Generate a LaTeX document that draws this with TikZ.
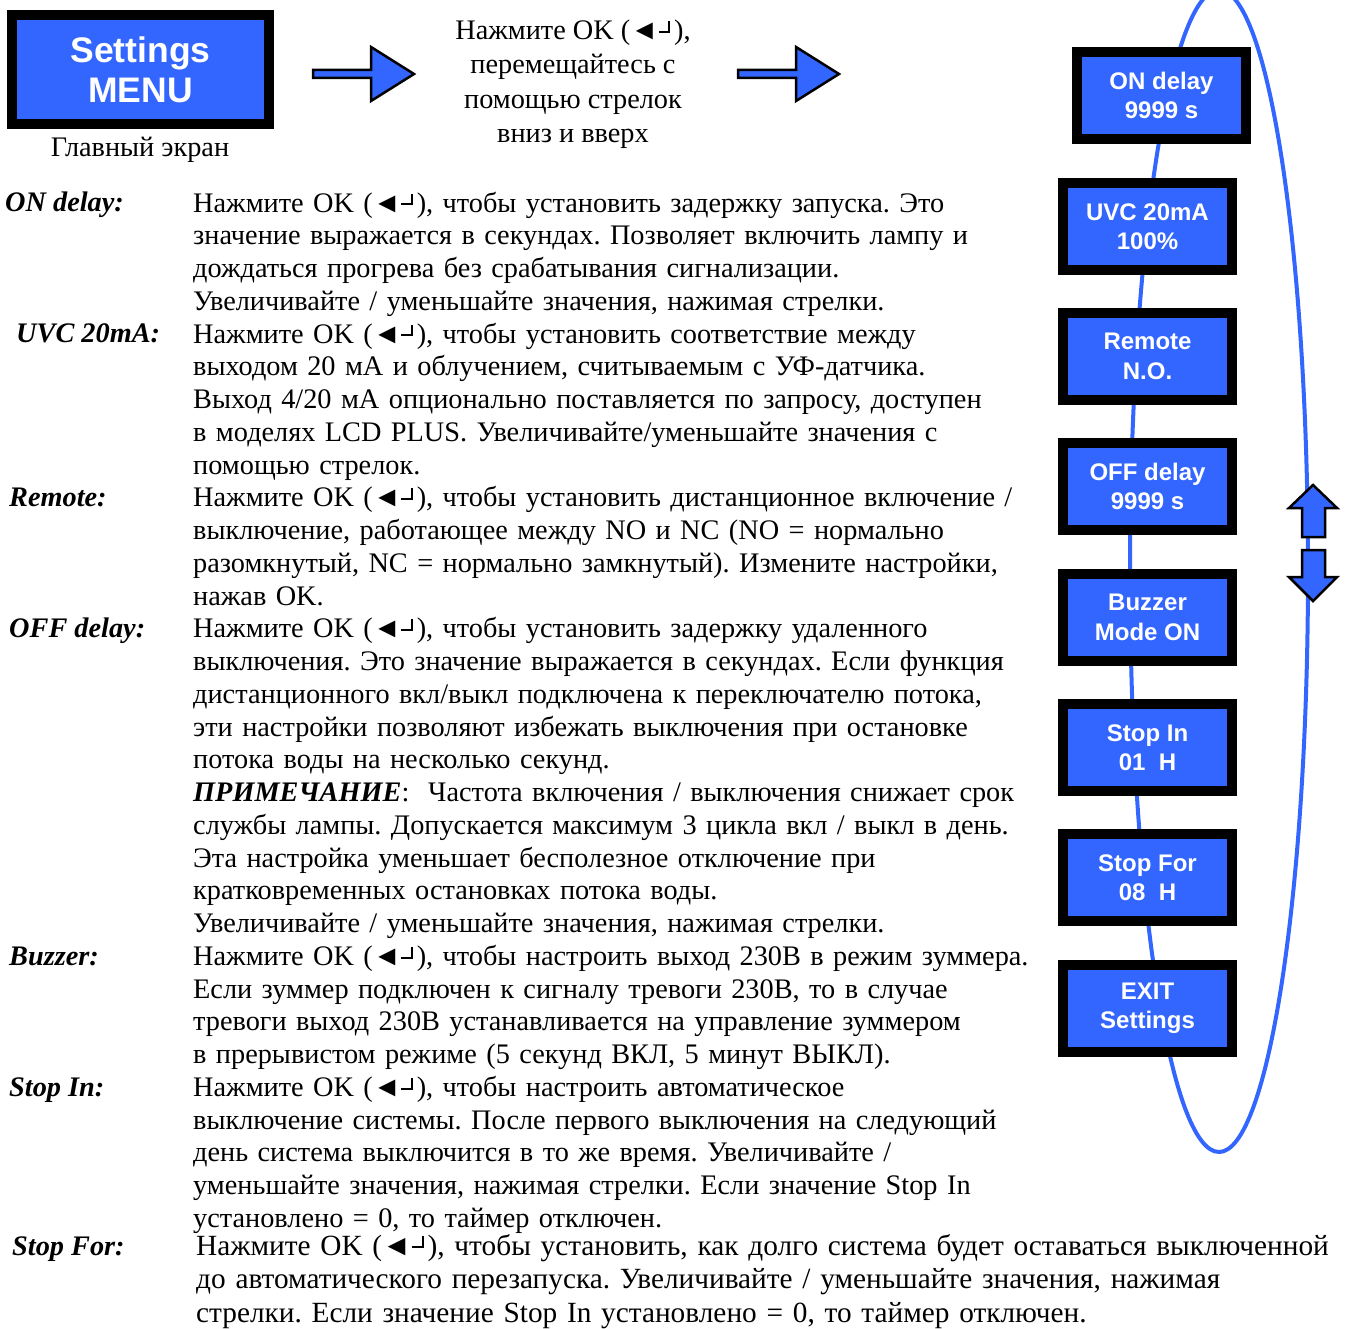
\documentclass[tikz,border=0pt]{standalone}
\usepackage{fontspec}
\setmainfont{Liberation Serif}
\newfontfamily\boxfont{Liberation Sans}
\definecolor{lcdblue}{RGB}{51,102,255}
\frenchspacing
% OK key glyph: left triangle followed by a small raised corner
\newcommand\okkey{(\char"25C4\kern0.02em\rule[0.24em]{0.33em}{0.07em}\rule[0.24em]{0.07em}{0.42em}\kern0.14em)}
\newcommand\bodysize{\fontsize{28.3}{32.75}\selectfont}
\newcommand\lbl[1]{\textbf{\textit{#1}}}
\tikzset{
  lcd/.style={draw=black, line width=10pt, fill=lcdblue, text=white,
    font=\boxfont\bfseries\fontsize{24}{29.5}\selectfont, align=center,
    minimum width=169pt, minimum height=87pt, inner sep=0pt},
  para/.style={anchor=north west, inner sep=0pt, text width=900pt, align=left,
    font=\bodysize},
  tag/.style={anchor=base west, inner sep=0pt, font=\bodysize},
  blockarrow/.style={fill=lcdblue, draw=black, line width=2.5pt, line join=miter}
}
\begin{document}
\begin{tikzpicture}[x=1pt, y=-1pt]
\useasboundingbox (0,0) rectangle (1346,1329);
\clip (0,0) rectangle (1346,1329);

% navigation loop behind the menu items
\draw[lcdblue, line width=4pt] (1219,571) ellipse [x radius=89pt, y radius=581pt];

% main screen
\node[lcd, minimum width=257pt, minimum height=109pt,
      font=\boxfont\bfseries\fontsize{35.5}{40}\selectfont] (menu) at (140.5,69.5) {Settings\\MENU};
\node[anchor=base, inner sep=0pt, font=\bodysize] (menucap) at (140,157) {Главный экран};

% block arrows of the header
\draw[blockarrow] (313,70) -- (371,70) -- (371,47) -- (414,74) -- (371,101) -- (371,78) -- (313,78) -- cycle;
\draw[blockarrow] (738,70) -- (796,70) -- (796,47) -- (839,74) -- (796,101) -- (796,78) -- (738,78) -- cycle;
\node[anchor=north, inner sep=0pt, align=center, font=\fontsize{28.3}{34.5}\selectfont] (howto) at (573,15)
  {\strut Нажмите OK \okkey,\\перемещайтесь с\\помощью стрелок\\вниз и вверх};

% menu items
\node[lcd] (ond) at (1161.5,95.5) {ON delay\\9999 s};
\node[lcd] (uvc) at (1147.5,226.5) {UVC 20mA\\100\%};
\node[lcd] (rem) at (1147.5,356.5) {Remote\\N.O.};
\node[lcd] (offd) at (1147.5,486.5) {OFF delay\\9999 s};
\node[lcd] (buz) at (1147.5,617.5) {Buzzer\\Mode ON};
\node[lcd] (sin) at (1147.5,747.5) {Stop In\\01\ \ H};
\node[lcd] (sfor) at (1147.5,877.5) {Stop For\\08\ \ H};
\node[lcd] (exit) at (1147.5,1008.5) {EXIT\\Settings};

% up / down keys
\draw[blockarrow] (1313,485) -- (1337,508) -- (1325,508) -- (1325,537) -- (1302,537) -- (1302,508) -- (1289,508) -- cycle;
\draw[blockarrow] (1313,601) -- (1337,577) -- (1325,577) -- (1325,550) -- (1302,550) -- (1302,577) -- (1289,577) -- cycle;

% descriptions
\node[tag] (t1) at (5,212) {\lbl{ON delay:}};
\node[para] (p1) at (193,189.1) {\strut Нажмите OK \okkey, чтобы установить задержку запуска. Это\\
значение выражается в секундах. Позволяет включить лампу и\\
дождаться прогрева без срабатывания сигнализации.\\
Увеличивайте / уменьшайте значения, нажимая стрелки.};

\node[tag] (t2) at (16,343) {\lbl{UVC 20mA:}};
\node[para] (p2) at (193,320.1) {\strut Нажмите OK \okkey, чтобы установить соответствие между\\
выходом 20 мА и облучением, считываемым с УФ-датчика.\\
Выход 4/20 мА опционально поставляется по запросу, доступен\\
в моделях LCD PLUS. Увеличивайте/уменьшайте значения с\\
помощью стрелок.};

\node[tag] (t3) at (9,506.75) {\lbl{Remote:}};
\node[para] (p3) at (193,483.8) {\strut Нажмите OK \okkey, чтобы установить дистанционное включение /\\
выключение, работающее между NO и NC (NO = нормально\\
разомкнутый, NC = нормально замкнутый). Измените настройки,\\
нажав OK.};

\node[tag] (t4) at (9,637.75) {\lbl{OFF delay:}};
\node[para] (p4) at (193,614.8) {\strut Нажмите OK \okkey, чтобы установить задержку удаленного\\
выключения. Это значение выражается в секундах. Если функция\\
дистанционного вкл/выкл подключена к переключателю потока,\\
эти настройки позволяют избежать выключения при остановке\\
потока воды на несколько секунд.\\
\lbl{ПРИМЕЧАНИЕ}:\ \ Частота включения / выключения снижает срок\\
службы лампы. Допускается максимум 3 цикла вкл / выкл в день.\\
Эта настройка уменьшает бесполезное отключение при\\
кратковременных остановках потока воды.\\
Увеличивайте / уменьшайте значения, нажимая стрелки.};

\node[tag] (t5) at (9,965.25) {\lbl{Buzzer:}};
\node[para] (p5) at (193,942.3) {\strut Нажмите OK \okkey, чтобы настроить выход 230В в режим зуммера.\\
\makebox[837pt][s]{Если зуммер подключен к сигналу тревоги 230В, то в случае}\\
\makebox[837pt][s]{тревоги выход 230В устанавливается на управление зуммером}\\
в прерывистом режиме (5 секунд ВКЛ, 5 минут ВЫКЛ).};

\node[tag] (t6) at (9,1096.25) {\lbl{Stop In:}};
\node[para] (p6) at (193,1073.3) {\strut Нажмите OK \okkey, чтобы настроить автоматическое\\
выключение системы. После первого выключения на следующий\\
день система выключится в то же время. Увеличивайте /\\
уменьшайте значения, нажимая стрелки. Если значение Stop In\\
установлено = 0, то таймер отключен.};

\node[tag] (t7) at (12,1255) {\lbl{Stop For:}};
\node[para, text width=1145pt, font=\fontsize{29.3}{33.5}\selectfont] (p7) at (196,1231.5) {\strut Нажмите OK \okkey, чтобы установить, как долго система будет оставаться выключенной\\
до автоматического перезапуска. Увеличивайте / уменьшайте значения, нажимая\\
стрелки. Если значение Stop In установлено = 0, то таймер отключен.};
\end{tikzpicture}
\end{document}
